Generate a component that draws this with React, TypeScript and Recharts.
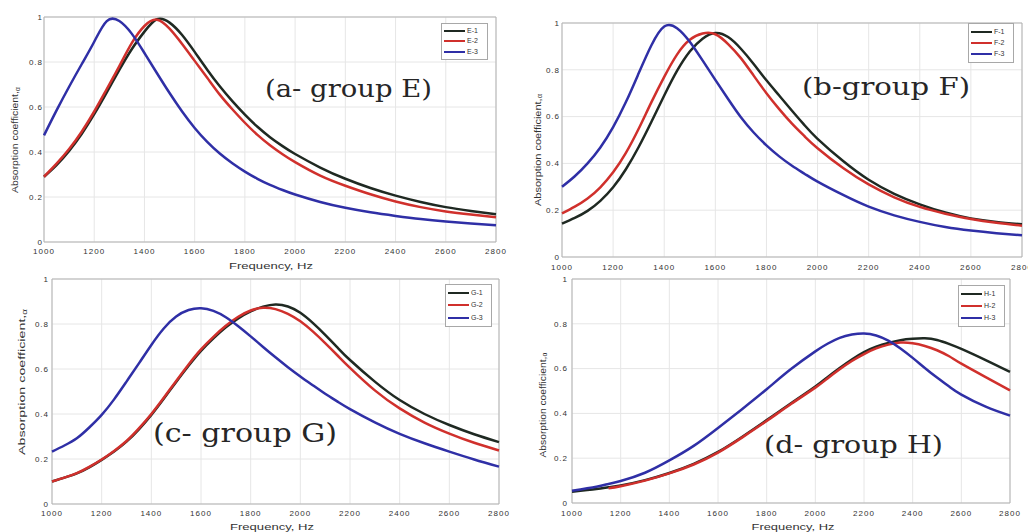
import { LineChart, Line, XAxis, YAxis, CartesianGrid, Legend, ReferenceArea } from 'recharts'

// frequency grids (Hz)
const FREQ_AB = [1000, 1050, 1100, 1150, 1200, 1250, 1300, 1350, 1400, 1450, 1500, 1550, 1600, 1650, 1700, 1750, 1800, 1850, 1900, 1950, 2000, 2100, 2200, 2300, 2400, 2500, 2600, 2700, 2800]
const FREQ_C = [1000, 1050, 1100, 1150, 1200, 1250, 1300, 1350, 1400, 1450, 1500, 1550, 1600, 1650, 1700, 1750, 1800, 1850, 1900, 1950, 2000, 2050, 2100, 2150, 2200, 2300, 2400, 2500, 2600, 2700, 2800]
const FREQ_D = [1000, 1100, 1150, 1200, 1300, 1400, 1500, 1600, 1700, 1800, 1900, 2000, 2050, 2100, 2150, 2200, 2250, 2300, 2350, 2400, 2450, 2500, 2550, 2600, 2700, 2800]

// group E
const E1 = [0.29, 0.342, 0.405, 0.48, 0.568, 0.665, 0.765, 0.858, 0.935, 0.99, 0.975, 0.92, 0.845, 0.766, 0.692, 0.626, 0.566, 0.512, 0.466, 0.426, 0.391, 0.331, 0.281, 0.24, 0.206, 0.178, 0.155, 0.138, 0.123]
const E2 = [0.29, 0.348, 0.413, 0.49, 0.58, 0.68, 0.782, 0.885, 0.96, 0.988, 0.948, 0.88, 0.805, 0.73, 0.655, 0.59, 0.53, 0.476, 0.43, 0.39, 0.355, 0.295, 0.25, 0.212, 0.18, 0.155, 0.136, 0.122, 0.11]
const E3 = [0.474, 0.585, 0.69, 0.79, 0.89, 0.982, 0.982, 0.925, 0.84, 0.75, 0.662, 0.58, 0.507, 0.445, 0.393, 0.35, 0.313, 0.281, 0.254, 0.231, 0.211, 0.178, 0.152, 0.132, 0.116, 0.102, 0.091, 0.082, 0.074]

// group F
const F1 = [0.143, 0.167, 0.197, 0.24, 0.298, 0.375, 0.47, 0.578, 0.69, 0.795, 0.878, 0.933, 0.957, 0.94, 0.89, 0.825, 0.755, 0.69, 0.625, 0.562, 0.505, 0.41, 0.33, 0.27, 0.225, 0.19, 0.165, 0.15, 0.14]
const F2 = [0.186, 0.215, 0.25, 0.298, 0.362, 0.445, 0.548, 0.662, 0.77, 0.865, 0.928, 0.955, 0.952, 0.91, 0.85, 0.775, 0.7, 0.632, 0.57, 0.515, 0.465, 0.38, 0.31, 0.255, 0.214, 0.185, 0.162, 0.146, 0.134]
const F3 = [0.3, 0.345, 0.4, 0.468, 0.555, 0.662, 0.785, 0.905, 0.985, 0.978, 0.92, 0.84, 0.757, 0.675, 0.597, 0.532, 0.477, 0.43, 0.39, 0.355, 0.322, 0.265, 0.215, 0.178, 0.15, 0.128, 0.113, 0.102, 0.093]

// group G
const G1 = [0.1, 0.117, 0.136, 0.163, 0.196, 0.233, 0.277, 0.332, 0.396, 0.468, 0.542, 0.614, 0.68, 0.736, 0.785, 0.825, 0.856, 0.877, 0.887, 0.878, 0.85, 0.805, 0.752, 0.695, 0.64, 0.544, 0.462, 0.4, 0.351, 0.31, 0.275]
const G2 = [0.1, 0.117, 0.137, 0.165, 0.198, 0.236, 0.28, 0.336, 0.4, 0.472, 0.547, 0.62, 0.687, 0.743, 0.792, 0.832, 0.86, 0.872, 0.866, 0.845, 0.812, 0.767, 0.715, 0.66, 0.605, 0.505, 0.425, 0.362, 0.313, 0.272, 0.238]
const G3 = [0.233, 0.26, 0.292, 0.34, 0.396, 0.465, 0.544, 0.625, 0.707, 0.78, 0.833, 0.862, 0.87, 0.858, 0.83, 0.79, 0.745, 0.698, 0.652, 0.608, 0.567, 0.528, 0.49, 0.455, 0.422, 0.363, 0.312, 0.27, 0.233, 0.198, 0.166]

// group H (H-2 starts at 1150 Hz)
const H1 = [0.05, 0.062, 0.07, 0.078, 0.102, 0.134, 0.175, 0.228, 0.296, 0.37, 0.445, 0.52, 0.562, 0.603, 0.641, 0.674, 0.698, 0.715, 0.727, 0.733, 0.735, 0.728, 0.71, 0.688, 0.638, 0.585]
const H2 = [null, null, 0.066, 0.075, 0.1, 0.132, 0.172, 0.225, 0.293, 0.366, 0.442, 0.515, 0.556, 0.597, 0.634, 0.665, 0.69, 0.707, 0.716, 0.713, 0.701, 0.682, 0.655, 0.622, 0.562, 0.503]
const H3 = [0.055, 0.073, 0.085, 0.098, 0.135, 0.19, 0.255, 0.335, 0.42, 0.508, 0.598, 0.677, 0.711, 0.737, 0.752, 0.757, 0.748, 0.725, 0.69, 0.648, 0.603, 0.56, 0.52, 0.484, 0.43, 0.39]

const X_TICKS = [1000, 1200, 1400, 1600, 1800, 2000, 2200, 2400, 2600, 2800]
const Y_TICKS = [0, 0.2, 0.4, 0.6, 0.8, 1]
const COLORS = ['#1f2922', '#d0302c', '#2f2fa6']

const tickStyle = { fontSize: 8, fill: '#333', letterSpacing: 1 }

function LegendBox({ payload, w, h }: any) {
    return (
        <div style={{ border: '1px solid #a8a8a8', background: '#fff', width: w, height: h, boxSizing: 'border-box', padding: '2px 2px', display: 'flex', flexDirection: 'column', justifyContent: 'space-around' }}>
            {(payload || []).map((p: any) => (
                <div key={p.value} style={{ display: 'flex', alignItems: 'center', height: 11 }}>
                    <span style={{ display: 'inline-block', width: 21, borderTop: `2.5px solid ${p.color}` }} />
                    <span style={{ fontSize: 7, color: '#333', marginLeft: 2, lineHeight: '8px' }}>{p.value}</span>
                </div>
            ))}
        </div>
    )
}

function Panel({ left, top, width, height, margin, yWidth, xHeight, xTickMargin, yTickMargin, freq, series, names, legend }: any) {
    const data = freq.map((f: number, i: number) => {
        const row: any = { f }
        series.forEach((s: any[], k: number) => { row['s' + k] = s[i] })
        return row
    })
    return (
        <div style={{ position: 'absolute', left, top }}>
            <LineChart width={width} height={height} data={data} margin={margin}>
                <CartesianGrid stroke="#e6e6e6" />
                <XAxis dataKey="f" type="number" domain={[1000, 2800]} ticks={X_TICKS} interval={0}
                    height={xHeight} tickSize={0} tickMargin={xTickMargin} axisLine={false} tickLine={false} tick={tickStyle} />
                <YAxis type="number" domain={[0, 1]} ticks={Y_TICKS} interval={0} width={yWidth}
                    tickSize={0} tickMargin={yTickMargin} axisLine={false} tickLine={false} tick={tickStyle}
                    tickFormatter={(v: number) => String(v)} />
                <ReferenceArea x1={1000} x2={2800} y1={0} y2={1} fill="none" stroke="#b3b3b3" ifOverflow="visible" />
                <Legend layout="vertical" align="center" verticalAlign="middle"
                    wrapperStyle={{ left: legend.x, top: legend.y, width: legend.w, height: legend.h }}
                    content={(props: any) => <LegendBox payload={props.payload} w={legend.w} h={legend.h} />} />
                {names.map((n: string, k: number) => (
                    <Line key={n} dataKey={'s' + k} name={n} type="natural" stroke={COLORS[k]} strokeWidth={2.5}
                        dot={false} activeDot={false} connectNulls={false} isAnimationActive={false} />
                ))}
            </LineChart>
        </div>
    )
}

function Overlay() {
    const serif = 'DejaVu Serif, serif'
    const sans = 'Liberation Sans, Arial, sans-serif'
    const yLab = (cx: number, cy: number, len: number) => (
        <text x={cx} y={cy} transform={`rotate(-90 ${cx} ${cy})`} textAnchor="middle" dominantBaseline="middle"
            fontFamily={sans} fontSize={9.5} fill="#333" textLength={len} lengthAdjust="spacingAndGlyphs">
            Absorption coefficient,<tspan fontSize={6.5} dy={2}>α</tspan>
        </text>
    )
    const xLab = (cx: number, y: number, len: number) => (
        <text x={cx - len / 2} y={y} fontFamily={sans} fontSize={9.5} fill="#333" textLength={len} lengthAdjust="spacingAndGlyphs">
            Frequency, Hz
        </text>
    )
    const title = (x: number, y: number, len: number, fs: number, s: string) => (
        <text x={x} y={y} fontFamily={serif} fontSize={fs} fill="#262626" textLength={len} lengthAdjust="spacingAndGlyphs">{s}</text>
    )
    return (
        <svg width={1028} height={532} style={{ position: 'absolute', left: 0, top: 0, pointerEvents: 'none' }}>
            {yLab(15.5, 140, 106)}
            {yLab(538, 150, 112)}
            {yLab(22.5, 382, 146)}
            {yLab(543, 405, 105)}
            {xLab(271, 269, 84)}
            {xLab(272, 530, 84)}
            {xLab(793, 530, 83)}
            {title(265, 97, 167, 24, '(a- group E)')}
            {title(802, 95, 168, 25, '(b-group F)')}
            {title(153, 442, 184, 26, '(c- group G)')}
            {title(764, 453, 179, 25, '(d- group H)')}
        </svg>
    )
}

export default function App() {
    return (
        <div style={{ position: 'absolute', left: 0, top: 0, width: 1028, height: 532, background: '#fff', overflow: 'hidden', fontFamily: 'Liberation Sans, Arial, sans-serif' }}>
            <Panel left={0} top={0} width={520} height={275} margin={{ top: 17, right: 24, left: 0, bottom: 0 }}
                yWidth={44} xHeight={33} xTickMargin={6} yTickMargin={1}
                freq={FREQ_AB} series={[E1, E2, E3]} names={['E-1', 'E-2', 'E-3']}
                legend={{ x: 441, y: 23, w: 47, h: 37 }} />
            <Panel left={520} top={0} width={508} height={275} margin={{ top: 23, right: 6, left: 0, bottom: 0 }}
                yWidth={42} xHeight={18} xTickMargin={7} yTickMargin={2}
                freq={FREQ_AB} series={[F1, F2, F3]} names={['F-1', 'F-2', 'F-3']}
                legend={{ x: 448, y: 23, w: 46, h: 40 }} />
            <Panel left={0} top={270} width={520} height={262} margin={{ top: 9, right: 21, left: 0, bottom: 0 }}
                yWidth={52} xHeight={28} xTickMargin={6} yTickMargin={3}
                freq={FREQ_C} series={[G1, G2, G3]} names={['G-1', 'G-2', 'G-3']}
                legend={{ x: 445, y: 14, w: 47, h: 43 }} />
            <Panel left={520} top={270} width={508} height={262} margin={{ top: 9, right: 18, left: 0, bottom: 0 }}
                yWidth={52} xHeight={29} xTickMargin={7} yTickMargin={4}
                freq={FREQ_D} series={[H1, H2, H3]} names={['H-1', 'H-2', 'H-3']}
                legend={{ x: 438, y: 15, w: 47, h: 42 }} />
            <Overlay />
        </div>
    )
}
